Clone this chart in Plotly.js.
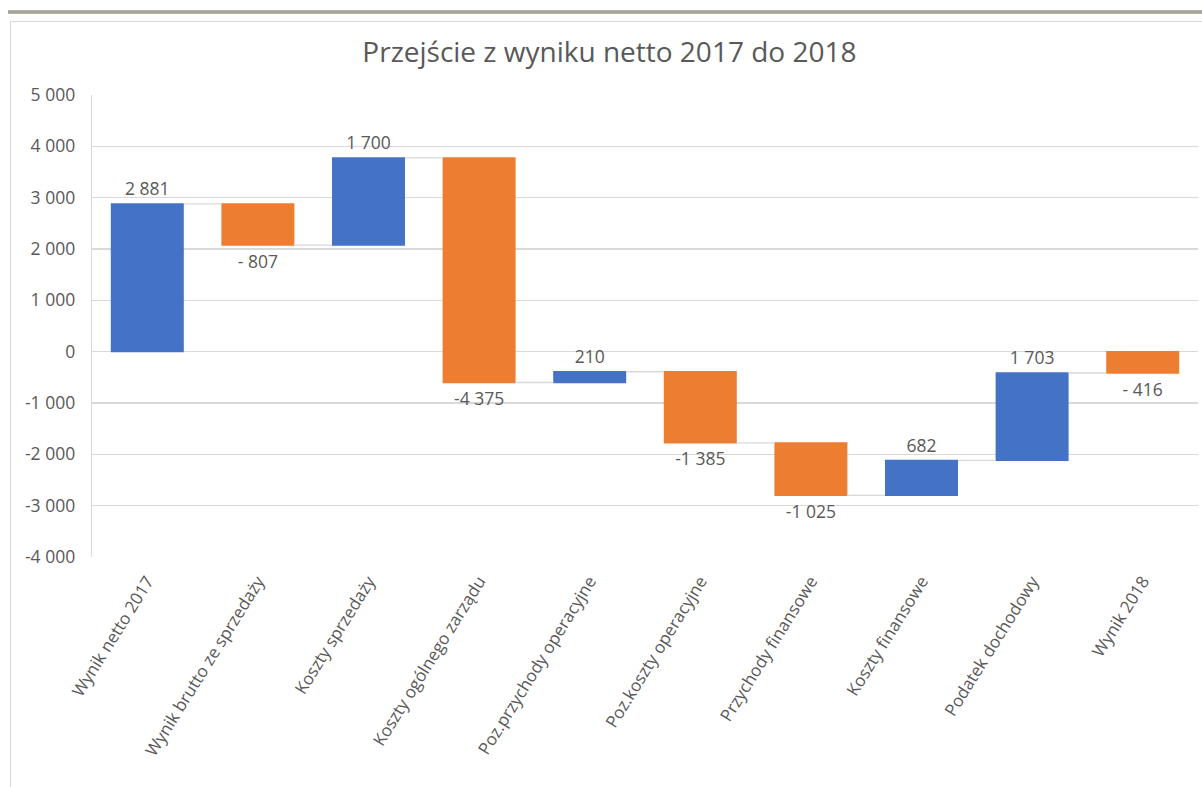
<!DOCTYPE html>
<html>
<head>
<meta charset="utf-8">
<script src="https://cdn.plot.ly/plotly-3.0.1.min.js"></script>
<style>
  html, body { margin: 0; padding: 0; background: #ffffff; width: 1202px; height: 787px; overflow: hidden; }
  #band { position: absolute; left: 8px; top: 10px; width: 1194px; height: 4px;
          background: linear-gradient(#b4b3a7, #a3a294 60%, #bdbcb1); }
  #frame { position: absolute; left: 10px; top: 21px; width: 1200px; height: 800px;
           border-left: 1px solid #d9d9d9; border-top: 1px solid #d9d9d9; }
  #chart { position: absolute; left: 0; top: 0; width: 1202px; height: 787px; }
</style>
</head>
<body>
<div id="band"></div>
<div id="frame"></div>
<div id="chart"></div>
<script>
const categories = [
  "Wynik netto 2017",
  "Wynik brutto ze sprzedaży",
  "Koszty sprzedaży",
  "Koszty ogólnego zarządu",
  "Poz.przychody operacyjne",
  "Poz.koszty operacyjne",
  "Przychody finansowe",
  "Koszty finansowe",
  "Podatek dochodowy",
  "Wynik 2018"
];
const changes = [2881, -807, 1700, -4375, 210, -1385, -1025, 682, 1703, -416];
const measures = ["relative", "relative", "relative", "relative", "relative",
                  "relative", "relative", "relative", "relative", "total"];
const yTickVals = [5000, 4000, 3000, 2000, 1000, 0, -1000, -2000, -3000, -4000];
const yTickText = ["5 000", "4 000", "3 000", "2 000", "1 000", "0",
                   "-1 000", "-2 000", "-3 000", "-4 000"];

function fmt(v) {
  const a = Math.abs(v);
  const s = a.toString().replace(/\B(?=(\d{3})+(?!\d))/g, " ");
  if (v < 0) return (a < 1000 ? "- " : "-") + s;
  return s;
}
const labels = changes.map(fmt);

const BLUE = "#4472C4", ORANGE = "#ED7D31", TXT = "#595959", GRID = "#D9D9D9";
const FONT = "Open Sans, Calibri, sans-serif";

const trace = {
  type: "waterfall",
  x: categories,
  y: changes,
  measure: measures,
  text: labels,
  textinfo: "text",
  textposition: "outside",
  cliponaxis: false,
  textfont: { family: FONT, size: 17.5, color: TXT },
  increasing: { marker: { color: BLUE, line: { width: 0 } } },
  decreasing: { marker: { color: ORANGE, line: { width: 0 } } },
  totals: { marker: { color: ORANGE, line: { width: 0 } } },
  connector: { mode: "between", line: { color: GRID, width: 1.3 } },
  hoverinfo: "skip"
};

const layout = {
  width: 1202, height: 787,
  paper_bgcolor: "rgba(0,0,0,0)",
  plot_bgcolor: "rgba(0,0,0,0)",
  margin: { l: 92, r: 4, t: 95, b: 230 },
  showlegend: false,
  waterfallgap: 0.34,
  title: {
    text: "Przejście z wyniku netto 2017 do 2018",
    font: { family: FONT, size: 28, color: TXT },
    xref: "container", x: 0.507, xanchor: "center",
    yref: "container", y: 1 - 52 / 787, yanchor: "middle"
  },
  xaxis: {
    type: "category",
    tickangle: -58,
    tickfont: { family: FONT, size: 17, color: TXT },
    ticks: "",
    ticklabelstandoff: 10,
    showgrid: false,
    showline: false,
    zeroline: false,
    fixedrange: true
  },
  yaxis: {
    range: [-4000, 5000],
    tickvals: yTickVals,
    ticktext: yTickText,
    tickfont: { family: FONT, size: 17.5, color: TXT },
    ticks: "",
    ticklabelstandoff: 12,
    showgrid: true,
    gridcolor: GRID,
    gridwidth: 1.3,
    zeroline: false,
    showline: true,
    linecolor: GRID,
    linewidth: 1.3,
    fixedrange: true
  }
};

Plotly.newPlot("chart", [trace], layout, { displayModeBar: false, staticPlot: true });
</script>
</body>
</html>
